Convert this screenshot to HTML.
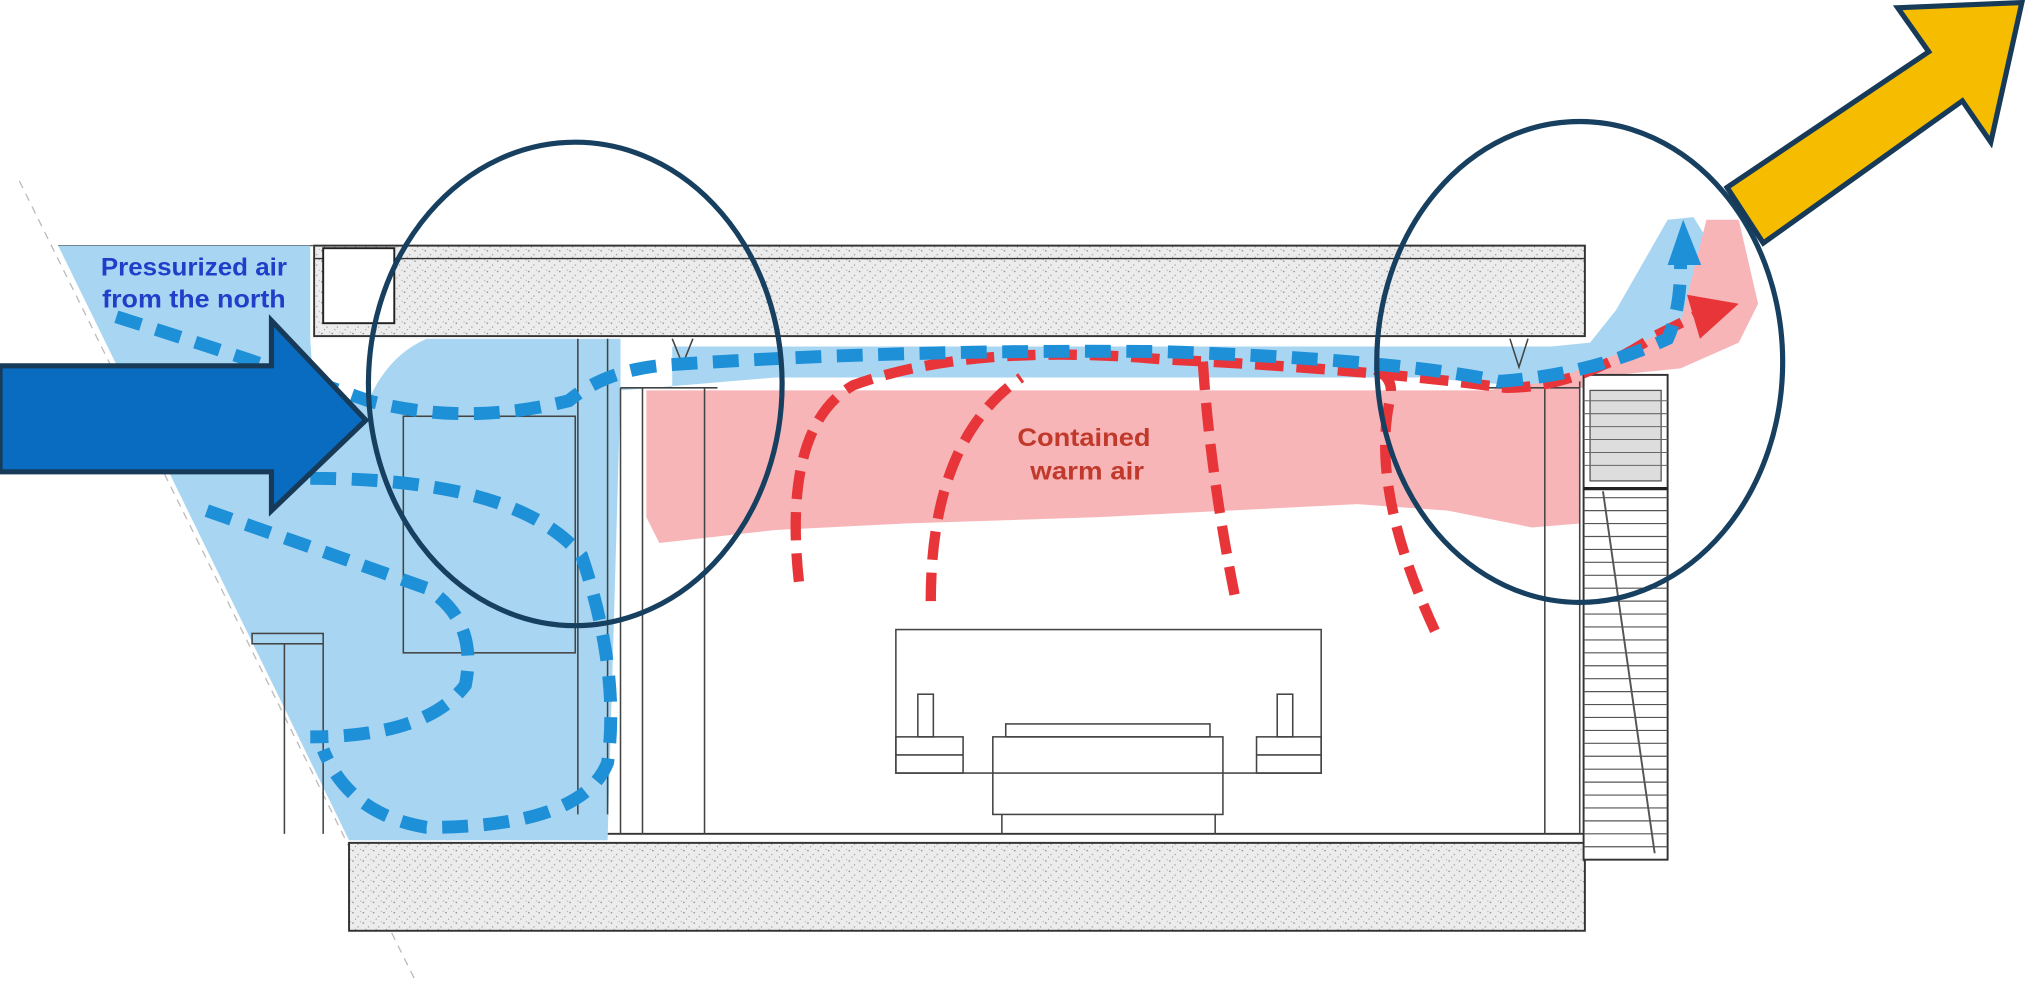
<!DOCTYPE html>
<html><head><meta charset="utf-8"><style>
html,body{margin:0;padding:0;background:#fff;}
svg{display:block}
</style></head><body>
<svg width="2027" height="983" viewBox="0 0 1568 760.4" preserveAspectRatio="none" xmlns="http://www.w3.org/2000/svg">
<defs>
<pattern id="sp" width="8" height="8" patternUnits="userSpaceOnUse">
<rect width="8" height="8" fill="#ececec"/>
<circle cx="1" cy="2" r="0.6" fill="#888"/><circle cx="5" cy="5" r="0.5" fill="#999"/><circle cx="3" cy="7" r="0.4" fill="#777"/><circle cx="7" cy="1" r="0.4" fill="#999"/>
</pattern>
</defs>
<line x1="15" y1="140" x2="322" y2="760" stroke="#bbb" stroke-width="1" stroke-dasharray="6 5"/>
<rect x="243" y="190" width="983" height="70" fill="url(#sp)" stroke="#333" stroke-width="1.5"/>
<line x1="243" y1="200" x2="1226" y2="200" stroke="#333" stroke-width="1"/>
<rect x="250" y="192" width="55" height="58" fill="#fff" stroke="#222" stroke-width="1.5"/>
<line x1="45" y1="190" x2="243" y2="190" stroke="#555" stroke-width="1"/>
<rect x="270" y="652" width="956" height="68" fill="url(#sp)" stroke="#333" stroke-width="1.5"/>
<line x1="270" y1="645" x2="1226" y2="645" stroke="#333" stroke-width="1.5"/>
<path d="M45,190 L240,190 L240,262 L480,262 L480,300 L520,300 L520,268 L1200,268 L1230,265 L1250,240 L1290,170 L1310,168 L1330,200 L1300,260 L1250,285 L1210,300 L1170,298 L1100,292 L600,292 L480,302 L470,650 L270,650 Z" fill="#a8d6f2"/>
<path d="M240,262 L330,262 Q300,275 285,310 L243,310 Z" fill="#fff"/>
<path d="M1320,170 L1345,170 L1360,235 L1345,265 L1300,285 L1250,290 L1230,300 L1222,300 L1222,405 L1185,408 L1120,395 L1050,390 L950,395 L850,400 L700,405 L600,410 L510,420 L500,400 L500,302 L1150,302 L1200,295 L1260,270 L1300,250 Z" fill="#f7b5b8"/>
<g stroke="#444" stroke-width="1.2" fill="none">
<line x1="480" y1="300" x2="480" y2="645"/><line x1="497" y1="300" x2="497" y2="645"/><line x1="545" y1="300" x2="545" y2="645"/>
<line x1="480" y1="300" x2="555" y2="300"/>
<line x1="1195" y1="300" x2="1195" y2="645"/><line x1="1222" y1="295" x2="1222" y2="645"/>
<line x1="1150" y1="300" x2="1222" y2="300"/>
<line x1="447" y1="262" x2="447" y2="630"/><line x1="470" y1="262" x2="470" y2="630"/>
<rect x="312" y="322" width="133" height="183"/>
<rect x="195" y="490" width="55" height="8"/><line x1="220" y1="498" x2="220" y2="645"/><line x1="250" y1="498" x2="250" y2="645"/>
<rect x="693" y="487" width="329" height="111"/>
<rect x="693" y="570" width="52" height="28"/><line x1="693" y1="584" x2="745" y2="584"/>
<rect x="972" y="570" width="50" height="28"/><line x1="972" y1="584" x2="1022" y2="584"/>
<rect x="710" y="537" width="12" height="33"/><rect x="988" y="537" width="12" height="33"/>
<rect x="768" y="570" width="178" height="60"/><rect x="778" y="560" width="158" height="10"/>
<line x1="775" y1="630" x2="775" y2="645"/><line x1="940" y1="630" x2="940" y2="645"/>
<path d="M520,262 L528,282 L536,262"/><path d="M1168,262 L1175,284 L1182,262"/>
</g>
<rect x="1225" y="290" width="65" height="375" fill="#fff" stroke="#333" stroke-width="1.5"/>
<rect x="1230" y="302" width="55" height="70" fill="#ddd" stroke="#555"/>
<g stroke="#666" stroke-width="0.8">
<line x1="1225" y1="310" x2="1290" y2="310"/><line x1="1225" y1="320" x2="1290" y2="320"/><line x1="1225" y1="330" x2="1290" y2="330"/><line x1="1225" y1="340" x2="1290" y2="340"/><line x1="1225" y1="350" x2="1290" y2="350"/><line x1="1225" y1="360" x2="1290" y2="360"/>
</g>
<g stroke="#555" stroke-width="0.9">
<line x1="1225" y1="385" x2="1290" y2="385"/><line x1="1225" y1="395" x2="1290" y2="395"/><line x1="1225" y1="405" x2="1290" y2="405"/><line x1="1225" y1="415" x2="1290" y2="415"/><line x1="1225" y1="425" x2="1290" y2="425"/><line x1="1225" y1="435" x2="1290" y2="435"/><line x1="1225" y1="445" x2="1290" y2="445"/><line x1="1225" y1="455" x2="1290" y2="455"/><line x1="1225" y1="465" x2="1290" y2="465"/><line x1="1225" y1="475" x2="1290" y2="475"/><line x1="1225" y1="485" x2="1290" y2="485"/><line x1="1225" y1="495" x2="1290" y2="495"/><line x1="1225" y1="505" x2="1290" y2="505"/><line x1="1225" y1="515" x2="1290" y2="515"/><line x1="1225" y1="525" x2="1290" y2="525"/><line x1="1225" y1="535" x2="1290" y2="535"/><line x1="1225" y1="545" x2="1290" y2="545"/><line x1="1225" y1="555" x2="1290" y2="555"/><line x1="1225" y1="565" x2="1290" y2="565"/><line x1="1225" y1="575" x2="1290" y2="575"/><line x1="1225" y1="585" x2="1290" y2="585"/><line x1="1225" y1="595" x2="1290" y2="595"/><line x1="1225" y1="605" x2="1290" y2="605"/><line x1="1225" y1="615" x2="1290" y2="615"/><line x1="1225" y1="625" x2="1290" y2="625"/><line x1="1225" y1="635" x2="1290" y2="635"/><line x1="1225" y1="645" x2="1290" y2="645"/><line x1="1225" y1="655" x2="1290" y2="655"/>
<line x1="1240" y1="380" x2="1280" y2="660" stroke-width="1.5"/>
</g>
<line x1="1225" y1="378" x2="1290" y2="378" stroke="#222" stroke-width="2.5"/>
<g stroke="#e8353a" stroke-width="8" fill="none" stroke-dasharray="22 10">
<path d="M618,450 Q605,330 660,298 Q750,265 900,278 Q1050,285 1165,300 Q1220,300 1280,260 L1320,240"/>
<path d="M720,465 Q720,340 790,292"/>
<path d="M955,460 Q935,360 930,272"/>
<path d="M1110,488 Q1060,380 1075,310 Q1080,290 1060,285"/>
</g>
<path d="M1305,228 L1345,235 L1315,262 Z" fill="#e8353a"/>
<g stroke="#1e90d8" stroke-width="10" fill="none" stroke-dasharray="20 12">
<path d="M90,245 Q200,280 285,310 Q360,330 440,310 Q470,285 520,282 Q700,270 900,272 Q1080,278 1160,295 Q1230,290 1290,262 Q1300,240 1300,205"/>
<path d="M160,395 Q260,430 330,455 Q370,480 360,530 Q330,570 240,570"/>
<path d="M240,370 Q400,370 450,430 Q480,520 470,590 Q450,640 330,640 Q270,630 250,580"/>
</g>
<path d="M1290,205 L1302,170 L1316,205 Z" fill="#1e90d8"/>
<path d="M0,283 L210,283 L210,248 L283,325 L210,395 L210,365 L0,365 Z" fill="#0a6cc0" stroke="#163a58" stroke-width="4"/>
<ellipse cx="445" cy="297" rx="160" ry="187" fill="none" stroke="#173f5f" stroke-width="4"/>
<ellipse cx="1222" cy="280" rx="157" ry="186" fill="none" stroke="#173f5f" stroke-width="4"/>
<path d="M1336,145 L1492,40 L1468,6 L1564,2 L1540,110 L1518,78 L1364,188 Z" fill="#f6bd00" stroke="#163a58" stroke-width="4" stroke-linejoin="miter"/>
<g font-family="Liberation Sans, sans-serif" font-weight="bold" font-size="19">
<text x="78" y="213" fill="#1f3fc9" textLength="144" lengthAdjust="spacingAndGlyphs">Pressurized air</text>
<text x="79" y="238" fill="#1f3fc9" textLength="142" lengthAdjust="spacingAndGlyphs">from the north</text>
<text x="787" y="345" fill="#c0392b" textLength="103" lengthAdjust="spacingAndGlyphs">Contained</text>
<text x="797" y="371" fill="#c0392b" textLength="88" lengthAdjust="spacingAndGlyphs">warm air</text>
</g>
</svg>
</body></html>
